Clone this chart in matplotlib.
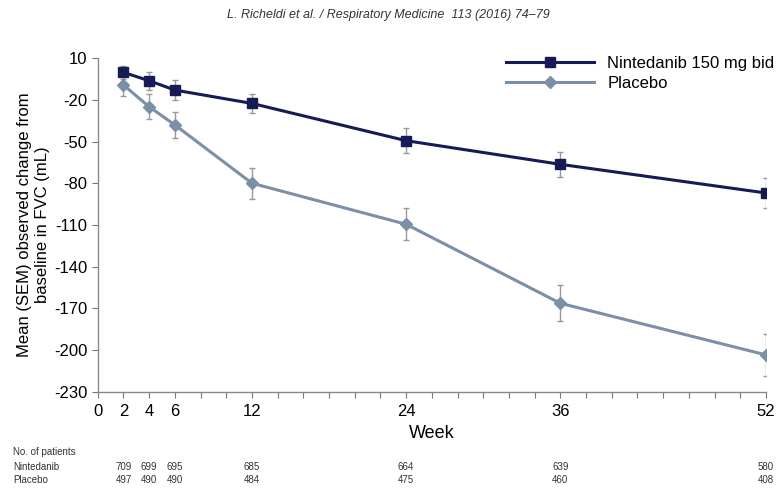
import numpy as np
import matplotlib
matplotlib.use('Agg')
import matplotlib.pyplot as plt
from matplotlib.transforms import blended_transform_factory

plt.rcParams['font.family'] = ['Liberation Sans', 'DejaVu Sans']
plt.rcParams['axes.unicode_minus'] = False

weeks = [2, 4, 6, 12, 24, 36, 52]
nint_mean = [-0.3, -6.3, -13, -22.6, -49.4, -66.4, -87]
nint_sem = [4.5, 6.5, 7, 7, 9, 9.2, 11]
plac_mean = [-9.4, -25, -38.1, -80, -109.5, -166.3, -203.4]
plac_sem = [8, 9, 9.3, 11, 11.6, 12.8, 15]

n_nint = [709, 699, 695, 685, 664, 639, 580]
n_plac = [497, 490, 490, 484, 475, 460, 408]

yticks = [10, -20, -50, -80, -110, -140, -170, -200, -230]
xlabels = [0, 2, 4, 6, 12, 24, 36, 52]

navy = '#161a55'
steel = '#7b8fa6'
errc = '#999999'

fig = plt.figure(figsize=(7.76, 4.88), dpi=100)
ax = fig.add_axes([0.126, 0.197, 0.861, 0.684])

ax.errorbar(weeks, plac_mean, yerr=plac_sem, fmt='none', ecolor=errc,
            elinewidth=1, capsize=2.5, capthick=1, zorder=2)
ax.errorbar(weeks, nint_mean, yerr=nint_sem, fmt='none', ecolor=errc,
            elinewidth=1, capsize=2.5, capthick=1, zorder=2)
ax.plot(weeks, nint_mean, color=navy, lw=2.2, marker='s', ms=7.5,
        label='Nintedanib 150 mg bid', zorder=4)
ax.plot(weeks, plac_mean, color=steel, lw=2.2, marker='D', ms=6.5,
        label='Placebo', zorder=3)

ax.set_xlim(0, 52)
ax.set_ylim(-230, 10)
ax.set_yticks(yticks)
ax.set_xticks(np.arange(0, 53, 2))
ax.set_xticklabels([str(w) if w in xlabels else '' for w in range(0, 53, 2)])
ax.tick_params(axis='both', labelsize=12, length=4, color='#777777', direction='out')
ax.tick_params(axis='x', pad=5)
for s in ['top', 'right']:
    ax.spines[s].set_visible(False)
for s in ['left', 'bottom']:
    ax.spines[s].set_color('#888888')
    ax.spines[s].set_linewidth(1)

ax.set_xlabel('Week', fontsize=13, labelpad=4)
fig.text(0.043, 0.539, 'Mean (SEM) observed change from\nbaseline in FVC (mL)',
         rotation=90, ha='center', va='center', fontsize=12, linespacing=1.3)

ax.legend(loc='upper right', bbox_to_anchor=(1.035, 1.052), frameon=False,
          fontsize=12, handlelength=5.3, labelspacing=0.3, handletextpad=0.8)

fig.text(0.5, 0.97, 'L. Richeldi et al. / Respiratory Medicine  113 (2016) 74\u201379',
         ha='center', va='center', fontsize=9, style='italic', color='#333333')

tr = blended_transform_factory(ax.transData, fig.transFigure)
fig.text(0.017, 0.074, 'No. of patients', fontsize=7, color='#333333', va='center')
fig.text(0.017, 0.044, 'Nintedanib', fontsize=7, color='#333333', va='center')
fig.text(0.017, 0.016, 'Placebo', fontsize=7, color='#333333', va='center')
for w, a, b in zip(weeks, n_nint, n_plac):
    ax.text(w, 0.044, str(a), transform=tr, ha='center', va='center', fontsize=7, color='#333333')
    ax.text(w, 0.016, str(b), transform=tr, ha='center', va='center', fontsize=7, color='#333333')

plt.savefig('out.png', dpi=100)
